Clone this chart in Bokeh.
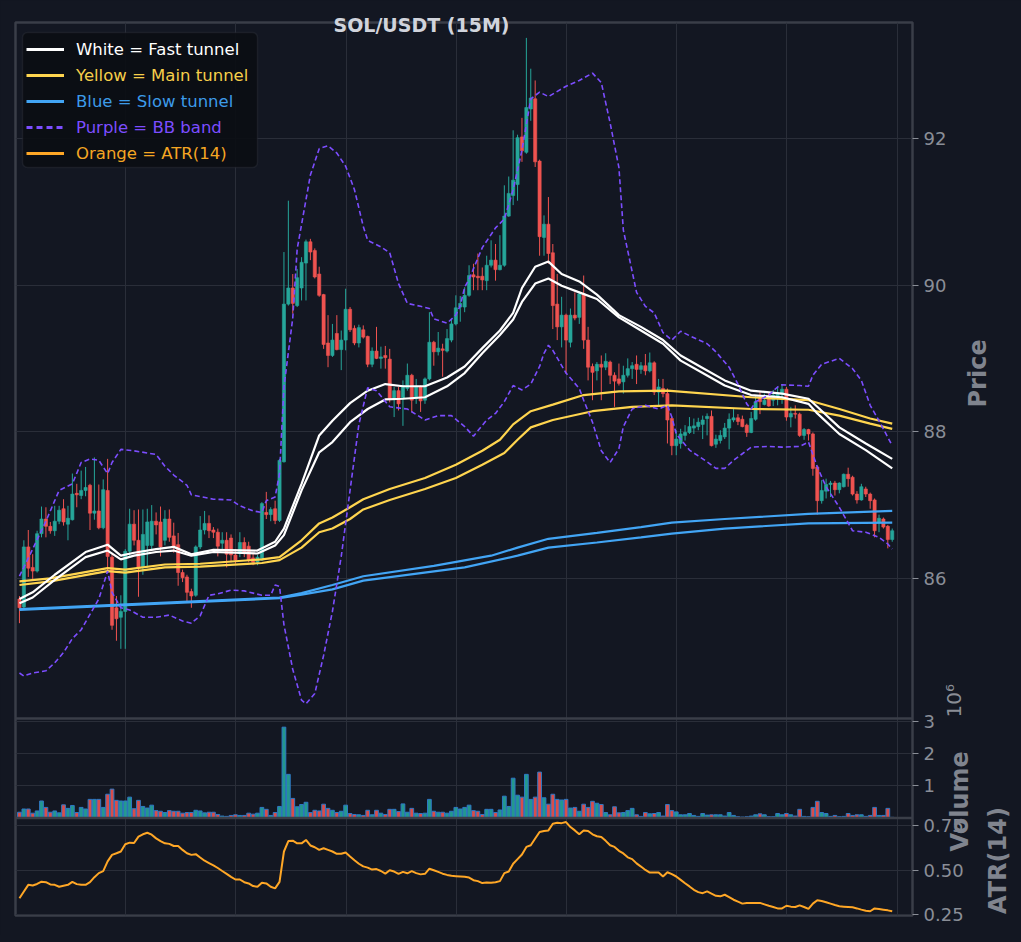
import numpy as np
from bokeh.plotting import figure
from bokeh.models import (Range1d, FixedTicker, Legend, LegendItem, ColumnDataSource,
                          CustomJSTickFormatter, Span, BoxAnnotation, Grid, LinearAxis)
from bokeh.embed import file_html
from bokeh.resources import INLINE

# ----------------------------------------------------------------- data
title_text = "SOL/USDT (15M)"

open_ = [
    85.72, 85.61, 86.43, 86.15, 86.10, 86.61, 86.81, 86.71, 86.65, 86.78,
    86.95, 86.74, 86.80, 87.16, 87.13, 87.20, 87.27, 86.89, 86.92, 86.69,
    87.20, 86.29, 85.60, 85.47, 85.55, 86.37, 86.74, 86.52, 86.15, 86.45,
    86.45, 86.78, 86.77, 86.52, 86.81, 86.58, 86.46, 86.08, 86.02, 85.82,
    85.77, 86.43, 86.66, 86.75, 86.66, 86.63, 86.48, 86.52, 86.55, 86.32,
    86.34, 86.49, 86.44, 86.28, 86.22, 86.25, 86.90, 86.87, 86.95, 86.79,
    87.59, 89.74, 89.96, 89.72, 89.96, 90.30, 90.59, 90.47, 90.15, 89.87,
    89.21, 89.04, 89.34, 89.12, 89.25, 89.67, 89.41, 89.21, 89.39, 89.30,
    88.92, 89.10, 89.00, 89.04, 88.99, 88.45, 88.56, 88.45, 88.59, 88.77,
    88.45, 88.61, 88.43, 88.72, 89.22, 89.09, 89.13, 89.10, 89.25, 89.47,
    89.70, 89.70, 89.86, 90.14, 90.12, 90.12, 90.06, 90.27, 90.34, 90.21,
    90.27, 90.94, 91.22, 91.37, 92.02, 91.81, 92.40, 92.54, 91.69, 90.65,
    90.83, 90.44, 89.74, 89.43, 89.59, 89.22, 89.59, 89.56, 89.88, 89.25,
    88.89, 88.83, 88.92, 88.88, 88.95, 88.77, 88.72, 88.68, 88.77, 88.86,
    88.92, 88.85, 88.90, 88.83, 88.94, 88.54, 88.59, 88.52, 88.18, 87.81,
    87.84, 87.95, 87.99, 88.05, 88.07, 88.10, 88.18, 88.21, 87.83, 87.88,
    87.93, 88.05, 88.16, 88.19, 88.17, 88.09, 87.99, 88.17, 88.47, 88.37,
    88.47, 88.43, 88.47, 88.51, 88.58, 88.20, 88.25, 88.24, 87.95, 88.03,
    87.97, 87.52, 87.06, 87.19, 87.28, 87.30, 87.21, 87.25, 87.42, 87.38,
    87.15, 87.07, 87.22, 87.15, 87.07, 86.77, 86.81, 86.71, 86.53]

high = [
    85.76, 86.52, 86.66, 86.33, 86.65, 86.98, 86.97, 86.77, 86.99, 86.99,
    87.08, 86.99, 87.43, 87.29, 87.47, 87.52, 87.29, 87.65, 87.28, 87.35,
    87.63, 86.33, 85.76, 85.77, 86.40, 86.95, 86.93, 86.94, 86.94, 86.95,
    87.00, 86.90, 86.98, 86.93, 86.94, 86.76, 86.62, 86.12, 86.05, 85.86,
    86.45, 86.85, 86.92, 86.86, 86.70, 86.68, 86.63, 86.63, 86.60, 86.40,
    86.63, 86.56, 86.50, 86.35, 86.32, 87.04, 87.18, 86.97, 87.06, 87.63,
    90.45, 91.15, 90.15, 90.22, 90.38, 90.62, 90.63, 90.50, 90.25, 89.88,
    89.59, 89.47, 89.59, 89.38, 89.95, 89.70, 89.45, 89.46, 89.45, 89.31,
    89.15, 89.43, 89.16, 89.17, 89.13, 88.61, 88.61, 88.70, 88.93, 88.79,
    88.72, 88.63, 88.74, 89.63, 89.24, 89.36, 89.20, 89.40, 89.54, 89.86,
    89.85, 89.97, 90.27, 90.29, 90.43, 90.24, 90.40, 90.61, 90.56, 90.68,
    91.36, 91.48, 92.11, 92.05, 92.28, 93.37, 92.95, 92.79, 91.71, 90.95,
    91.20, 90.56, 90.15, 89.84, 89.61, 89.68, 89.90, 89.91, 90.13, 89.43,
    88.93, 88.95, 89.04, 89.07, 88.97, 88.81, 88.93, 88.90, 89.00, 88.95,
    89.04, 88.95, 89.06, 89.08, 88.96, 88.72, 88.72, 88.59, 88.20, 88.02,
    88.04, 88.09, 88.20, 88.18, 88.19, 88.22, 88.25, 88.29, 87.96, 88.02,
    88.12, 88.25, 88.31, 88.24, 88.22, 88.11, 88.27, 88.50, 88.54, 88.52,
    88.54, 88.57, 88.61, 88.65, 88.61, 88.34, 88.36, 88.26, 88.05, 88.04,
    87.99, 87.54, 87.34, 87.36, 87.33, 87.33, 87.31, 87.43, 87.51, 87.40,
    87.19, 87.29, 87.25, 87.17, 87.09, 86.87, 86.83, 86.73, 86.68]

low = [
    85.39, 85.59, 86.02, 85.98, 86.08, 86.56, 86.56, 86.61, 86.58, 86.74,
    86.72, 86.52, 86.79, 86.97, 87.08, 87.12, 86.66, 86.80, 86.67, 86.67,
    86.10, 85.30, 85.15, 85.04, 85.04, 86.30, 86.45, 85.75, 86.05, 86.15,
    86.40, 86.60, 86.30, 86.45, 86.50, 86.35, 85.90, 85.95, 85.68, 85.60,
    85.75, 86.40, 86.60, 86.55, 86.55, 86.30, 86.40, 86.15, 86.22, 86.20,
    86.29, 86.29, 86.22, 86.18, 86.18, 86.24, 86.81, 86.78, 86.74, 86.77,
    87.58, 89.72, 89.61, 89.70, 89.79, 89.79, 90.34, 90.09, 89.84, 89.13,
    88.88, 89.02, 89.11, 88.84, 89.11, 89.36, 89.18, 89.15, 89.27, 88.88,
    88.88, 88.99, 88.86, 88.86, 88.40, 88.20, 88.29, 88.08, 88.56, 88.27,
    88.38, 88.27, 88.38, 88.70, 88.90, 89.04, 88.75, 89.08, 89.22, 89.45,
    89.50, 89.63, 89.84, 89.93, 89.93, 89.93, 89.93, 90.24, 90.06, 90.20,
    90.25, 90.93, 91.09, 91.15, 91.68, 91.79, 92.24, 91.61, 90.40, 90.40,
    90.29, 89.40, 89.25, 89.15, 88.79, 89.15, 89.52, 89.47, 89.13, 88.70,
    88.43, 88.70, 88.43, 88.84, 88.65, 88.34, 88.63, 88.52, 88.74, 88.72,
    88.65, 88.79, 88.77, 88.81, 88.50, 88.36, 88.47, 87.84, 87.68, 87.68,
    87.77, 87.88, 87.97, 87.97, 88.02, 87.90, 87.95, 87.80, 87.78, 87.84,
    87.90, 87.76, 88.13, 88.09, 88.06, 87.93, 87.98, 88.15, 88.24, 88.36,
    88.34, 88.35, 88.36, 88.38, 88.15, 88.06, 88.18, 87.93, 87.89, 87.88,
    87.40, 86.87, 87.02, 87.09, 87.11, 87.13, 87.16, 87.24, 87.25, 87.13,
    87.02, 87.06, 87.11, 86.95, 86.56, 86.63, 86.68, 86.41, 86.50]

close = [
    85.60, 86.43, 86.14, 86.10, 86.61, 86.81, 86.71, 86.65, 86.78, 86.93,
    86.77, 86.82, 87.15, 87.14, 87.20, 87.24, 86.89, 86.92, 86.69, 87.21,
    86.30, 85.36, 85.45, 85.55, 86.37, 86.74, 86.52, 86.15, 86.60, 86.77,
    86.78, 86.73, 86.43, 86.81, 86.56, 86.44, 86.08, 86.01, 85.81, 85.76,
    86.43, 86.66, 86.75, 86.65, 86.63, 86.44, 86.52, 86.33, 86.32, 86.25,
    86.49, 86.36, 86.25, 86.22, 86.29, 87.02, 86.87, 86.94, 86.79, 87.61,
    89.74, 89.96, 89.75, 90.10, 90.31, 90.59, 90.45, 90.11, 89.86, 89.19,
    89.04, 89.25, 89.12, 89.25, 89.67, 89.39, 89.21, 89.42, 89.29, 88.92,
    89.10, 89.00, 89.02, 89.01, 88.45, 88.56, 88.38, 88.63, 88.77, 88.43,
    88.61, 88.42, 88.72, 89.22, 89.09, 89.14, 89.11, 89.27, 89.47, 89.69,
    89.75, 89.86, 90.13, 90.11, 90.10, 90.07, 90.27, 90.34, 90.21, 90.27,
    90.94, 91.25, 91.43, 92.01, 91.83, 92.42, 92.55, 91.68, 90.66, 90.83,
    90.43, 89.72, 89.43, 89.59, 89.25, 89.59, 89.55, 89.88, 89.25, 88.88,
    88.81, 88.92, 88.88, 88.96, 88.77, 88.69, 88.66, 88.77, 88.86, 88.90,
    88.85, 88.90, 88.83, 88.94, 88.54, 88.61, 88.52, 88.16, 87.81, 87.90,
    87.97, 87.99, 88.07, 88.08, 88.13, 88.16, 88.21, 87.81, 87.90, 87.95,
    88.05, 88.17, 88.19, 88.14, 88.07, 87.99, 88.18, 88.41, 88.41, 88.43,
    88.35, 88.50, 88.52, 88.58, 88.20, 88.25, 88.24, 87.95, 88.03, 87.97,
    87.50, 87.06, 87.20, 87.28, 87.30, 87.21, 87.30, 87.42, 87.36, 87.15,
    87.07, 87.25, 87.15, 87.06, 86.65, 86.82, 86.70, 86.53, 86.65]

# volume in millions (axis offset 10^6)
volume_m = [
    0.18, 0.28, 0.28, 0.15, 0.22, 0.53, 0.33, 0.18, 0.22, 0.16,
    0.41, 0.30, 0.39, 0.17, 0.33, 0.28, 0.58, 0.58, 0.58, 0.33,
    0.74, 0.90, 0.55, 0.53, 0.53, 0.65, 0.29, 0.55, 0.36, 0.31,
    0.40, 0.23, 0.21, 0.17, 0.23, 0.21, 0.21, 0.15, 0.17, 0.17,
    0.24, 0.22, 0.16, 0.18, 0.18, 0.11, 0.06, 0.05, 0.08, 0.10,
    0.08, 0.08, 0.15, 0.12, 0.15, 0.33, 0.27, 0.08, 0.17, 0.36,
    2.83, 1.36, 0.61, 0.35, 0.42, 0.49, 0.17, 0.24, 0.22, 0.43,
    0.30, 0.24, 0.17, 0.21, 0.40, 0.14, 0.11, 0.10, 0.08, 0.24,
    0.10, 0.24, 0.15, 0.11, 0.27, 0.27, 0.20, 0.44, 0.18, 0.30,
    0.15, 0.14, 0.15, 0.58, 0.21, 0.18, 0.18, 0.15, 0.21, 0.33,
    0.28, 0.33, 0.40, 0.23, 0.21, 0.11, 0.27, 0.27, 0.17, 0.25,
    0.68, 0.36, 1.24, 0.71, 0.65, 1.36, 0.58, 0.65, 1.43, 0.63,
    0.43, 0.74, 0.58, 0.56, 0.58, 0.31, 0.33, 0.21, 0.43, 0.33,
    0.52, 0.46, 0.42, 0.17, 0.10, 0.35, 0.16, 0.17, 0.23, 0.30,
    0.10, 0.05, 0.17, 0.13, 0.14, 0.17, 0.06, 0.42, 0.23, 0.19,
    0.10, 0.10, 0.14, 0.08, 0.05, 0.14, 0.09, 0.10, 0.10, 0.10,
    0.06, 0.17, 0.08, 0.04, 0.03, 0.04, 0.06, 0.10, 0.13, 0.10,
    0.04, 0.04, 0.14, 0.10, 0.14, 0.10, 0.06, 0.27, 0.05, 0.04,
    0.33, 0.52, 0.17, 0.14, 0.05, 0.08, 0.04, 0.05, 0.14, 0.08,
    0.10, 0.10, 0.05, 0.08, 0.33, 0.08, 0.08, 0.30, 0.02]

atr14 = [
    0.342, 0.380, 0.418, 0.414, 0.423, 0.436, 0.433, 0.420, 0.418, 0.407,
    0.413, 0.418, 0.435, 0.422, 0.418, 0.418, 0.433, 0.461, 0.484, 0.495,
    0.550, 0.587, 0.596, 0.606, 0.647, 0.656, 0.654, 0.690, 0.703, 0.712,
    0.701, 0.680, 0.665, 0.652, 0.649, 0.637, 0.637, 0.615, 0.596, 0.587,
    0.591, 0.572, 0.554, 0.541, 0.528, 0.513, 0.496, 0.480, 0.463, 0.448,
    0.448, 0.433, 0.426, 0.411, 0.407, 0.430, 0.426, 0.407, 0.398, 0.435,
    0.606, 0.665, 0.667, 0.652, 0.652, 0.671, 0.640, 0.630, 0.615, 0.624,
    0.615, 0.606, 0.593, 0.593, 0.600, 0.578, 0.557, 0.537, 0.522, 0.515,
    0.504, 0.507, 0.496, 0.481, 0.500, 0.493, 0.480, 0.491, 0.483, 0.495,
    0.484, 0.477, 0.480, 0.509, 0.500, 0.491, 0.481, 0.474, 0.469, 0.467,
    0.465, 0.463, 0.459, 0.444, 0.439, 0.428, 0.431, 0.430, 0.433, 0.439,
    0.484, 0.493, 0.537, 0.563, 0.589, 0.632, 0.641, 0.679, 0.716, 0.722,
    0.725, 0.763, 0.768, 0.766, 0.772, 0.744, 0.725, 0.703, 0.725, 0.722,
    0.703, 0.692, 0.688, 0.666, 0.641, 0.632, 0.610, 0.595, 0.573, 0.563,
    0.539, 0.521, 0.502, 0.487, 0.487, 0.487, 0.465, 0.489, 0.478, 0.465,
    0.446, 0.427, 0.409, 0.390, 0.377, 0.371, 0.381, 0.368, 0.356, 0.353,
    0.362, 0.349, 0.334, 0.323, 0.312, 0.316, 0.316, 0.316, 0.316, 0.308,
    0.300, 0.293, 0.285, 0.285, 0.300, 0.295, 0.293, 0.302, 0.293, 0.282,
    0.312, 0.331, 0.327, 0.320, 0.312, 0.304, 0.297, 0.295, 0.293, 0.291,
    0.285, 0.278, 0.272, 0.269, 0.285, 0.282, 0.278, 0.274, 0.269]

# tunnels (sampled at candle indices)
fast_x = [0, 3, 8, 15, 20, 23, 26, 31, 35, 39, 44, 54, 58, 60, 64, 68, 71, 75, 79, 83,
          87, 92, 97, 101, 105, 109, 112, 114, 117, 120, 123, 127, 131, 136, 141, 146,
          150, 155, 160, 166, 173, 179, 181, 186, 192, 198]
fast_a = [85.72, 85.81, 86.05, 86.36, 86.46, 86.31, 86.35, 86.40, 86.43, 86.33,
          86.39, 86.38, 86.50, 86.68, 87.29, 87.95, 88.15, 88.39, 88.56, 88.65,
          88.62, 88.62, 88.74, 88.89, 89.14, 89.38, 89.62, 89.96, 90.25, 90.32,
          90.15, 90.05, 89.87, 89.59, 89.43, 89.25, 89.04, 88.87, 88.70, 88.56,
          88.52, 88.45, 88.34, 88.06, 87.84, 87.63]
fast_b = [85.66, 85.74, 85.98, 86.29, 86.38, 86.26, 86.31, 86.36, 86.38, 86.31,
          86.36, 86.34, 86.45, 86.59, 87.20, 87.72, 87.86, 88.13, 88.31, 88.44,
          88.45, 88.47, 88.62, 88.80, 89.07, 89.32, 89.53, 89.77, 90.02, 90.09,
          89.99, 89.90, 89.81, 89.56, 89.38, 89.20, 88.97, 88.80, 88.63, 88.50,
          88.47, 88.38, 88.25, 87.97, 87.75, 87.50]

main_a_x = [0, 7, 20, 24, 33, 41, 55, 59, 64, 68, 71, 75, 78, 84, 92, 99, 105, 109, 112,
            116, 121, 128, 136, 147, 166, 179, 186, 193, 198]
main_a = [85.96, 86.00, 86.14, 86.12, 86.19, 86.20, 86.26, 86.29, 86.52, 86.75,
          86.83, 86.97, 87.08, 87.22, 87.37, 87.55, 87.74, 87.89, 88.10, 88.28,
          88.37, 88.50, 88.55, 88.56, 88.47, 88.43, 88.31, 88.18, 88.11]
main_b_x = [0, 7, 20, 24, 33, 41, 55, 59, 64, 68, 71, 75, 78, 84, 92, 99, 105, 110, 113,
            116, 121, 130, 139, 148, 166, 179, 186, 193, 198]
main_b = [85.91, 85.96, 86.10, 86.08, 86.15, 86.16, 86.21, 86.25, 86.42, 86.63,
          86.68, 86.81, 86.94, 87.07, 87.22, 87.37, 87.55, 87.71, 87.89, 88.06,
          88.16, 88.28, 88.34, 88.36, 88.31, 88.30, 88.22, 88.11, 88.04]

slow_a_x = [0, 59, 64, 71, 78, 94, 107, 113, 120, 131, 141, 148, 160, 179, 198]
slow_a = [85.58, 85.74, 85.80, 85.91, 86.03, 86.17, 86.31, 86.42, 86.54, 86.62,
          86.70, 86.76, 86.81, 86.88, 86.92]
slow_b_x = [0, 59, 64, 71, 78, 101, 113, 120, 131, 141, 148, 160, 179, 198]
slow_b = [85.57, 85.73, 85.78, 85.85, 85.97, 86.15, 86.31, 86.42, 86.49, 86.56,
          86.61, 86.68, 86.75, 86.76]

bb_up_x = [0, 3, 6, 8, 9, 12, 14, 16, 18, 20, 21, 23, 26, 31, 33, 35, 38, 39, 44, 48,
           50, 53, 55, 56, 58, 59, 60, 62, 63, 66, 68, 70, 72, 74, 76, 78, 79, 82, 84, 86,
           88, 91, 93, 94, 97, 99, 100, 101, 102, 105, 108, 110, 112, 114, 116, 118, 120,
           124, 127, 130, 132, 134, 136, 137, 140, 142, 144, 146, 148, 150, 152, 156, 158,
           161, 163, 165, 166, 167, 170, 172, 173, 177, 179, 180, 182, 186, 189, 191, 193,
           195, 198]
bb_up = [86.03, 86.40, 86.78, 87.06, 87.20, 87.29, 87.58, 87.63, 87.61, 87.43,
         87.58, 87.76, 87.74, 87.69, 87.53, 87.41, 87.27, 87.14, 87.08, 87.07,
         86.99, 86.92, 86.90, 87.06, 87.11, 87.43, 88.61, 89.55, 90.49, 91.50,
         91.86, 91.90, 91.80, 91.62, 91.30, 90.80, 90.61, 90.52, 90.44, 90.02,
         89.75, 89.71, 89.68, 89.54, 89.48, 89.59, 89.72, 89.97, 90.08, 90.51,
         90.78, 90.90, 91.30, 91.84, 92.54, 92.63, 92.57, 92.71, 92.79, 92.89,
         92.76, 92.21, 91.60, 90.75, 89.90, 89.71, 89.62, 89.35, 89.25, 89.37,
         89.31, 89.20, 89.09, 88.88, 88.65, 88.38, 88.31, 88.41, 88.50, 88.61,
         88.64, 88.63, 88.62, 88.77, 88.92, 89.00, 88.86, 88.70, 88.36, 88.15,
         87.81]
bb_lo_x = [0, 1, 3, 6, 8, 10, 12, 14, 16, 18, 20, 21, 23, 25, 28, 31, 34, 37, 39, 41,
           43, 45, 48, 51, 55, 57, 58, 59, 60, 62, 64, 65, 67, 69, 71, 73, 75, 77, 79, 81,
           84, 88, 92, 95, 98, 101, 103, 106, 108, 110, 112, 114, 116, 118, 119, 120, 121,
           124, 127, 128, 130, 132, 134, 136, 137, 139, 142, 145, 147, 148, 149, 152, 154,
           156, 158, 160, 162, 164, 166, 170, 173, 177, 179, 181, 183, 186, 189, 192, 195,
           197, 198]
bb_lo = [84.71, 84.67, 84.71, 84.74, 84.85, 84.99, 85.18, 85.30, 85.51, 85.72,
         86.10, 85.81, 85.60, 85.57, 85.47, 85.47, 85.50, 85.42, 85.39, 85.49,
         85.77, 85.79, 85.84, 85.83, 85.77, 85.77, 85.91, 85.89, 85.37, 84.76,
         84.34, 84.29, 84.43, 84.95, 85.55, 86.30, 87.20, 88.10, 88.60, 88.56,
         88.34, 88.31, 88.16, 88.22, 88.22, 88.07, 87.94, 88.16, 88.25, 88.41,
         88.63, 88.57, 88.65, 88.89, 89.07, 89.18, 89.11, 88.80, 88.59, 88.43,
         88.13, 87.74, 87.58, 87.77, 88.07, 88.31, 88.36, 88.31, 88.36, 88.20,
         87.97, 87.75, 87.67, 87.59, 87.50, 87.50, 87.61, 87.70, 87.79, 87.80,
         87.79, 87.80, 87.86, 87.52, 87.25, 86.97, 86.65, 86.63, 86.56, 86.47,
         86.40]

grid_x = [-0.9 + 25 * k for k in range(9)]
price_ticks = [86, 88, 90, 92]
vol_ticks = [1, 2, 3]
atr_ticks = [0.25, 0.50, 0.75]
legend_labels = ["White = Fast tunnel", "Yellow = Main tunnel", "Blue = Slow tunnel",
                 "Purple = BB band", "Orange = ATR(14)"]
axis_titles = {"price": "Price", "volume": "Volume", "atr": "ATR(14)", "offset": "10\u2076"}

N = len(close)
assert len(open_) == N and len(high) == N and len(low) == N
assert len(volume_m) == N and len(atr14) == N
assert len(fast_x) == len(fast_a) == len(fast_b)
assert len(main_a_x) == len(main_a) and len(main_b_x) == len(main_b)
assert len(slow_a_x) == len(slow_a) and len(slow_b_x) == len(slow_b)
assert len(bb_up_x) == len(bb_up) and len(bb_lo_x) == len(bb_lo)

# ----------------------------------------------------------------- style
BG = "#131722"
GRID = "#2a2e39"
EDGE = "#3a3e48"
TICK = "#8a8e97"
AXLAB = "#80848e"
UP = "#26a69a"
DOWN = "#ef5350"
C_FAST = "#ffffff"
C_MAIN = "#ffd54f"
C_SLOW = "#42a5f5"
C_BB = "#7c4dff"
C_ATR = "#ffa726"
FONT = "DejaVu Sans"

# layout in page pixels (canvas starts at page 0,0)
FRAME_L = 15
FRAME_W = 897
RIGHT_B = 101
FRAME_T = 22
FRAME_B = 915
FRAME_H = FRAME_B - FRAME_T
SPLIT1 = 718.0      # price | volume
SPLIT2 = 817.5      # volume | ATR

X0, X1 = -0.9, 202.6
P0, P1 = 84.09, 93.58                     # price shown between FRAME_T and SPLIT1
PRICE_PX = (SPLIT1 - FRAME_T) / (P1 - P0)
VOL_TOP = 3.1
VOL_PX = (SPLIT2 - SPLIT1) / VOL_TOP
ATR_LO, ATR_TOP = 0.245, 0.795
ATR_PX = (FRAME_B - SPLIT2) / (ATR_TOP - ATR_LO)


def xd(px):
    return X0 + (px - FRAME_L) / FRAME_W * (X1 - X0)


def p_of_py(py):
    return P1 - (py - FRAME_T) / PRICE_PX


def v_of_py(py):
    return (SPLIT2 - py) / VOL_PX


def a_of_py(py):
    return ATR_LO + (FRAME_B - py) / ATR_PX


def price_of_vol(v):
    return p_of_py(SPLIT2 - v * VOL_PX)


def price_of_atr(a):
    return p_of_py(FRAME_B - (a - ATR_LO) * ATR_PX)


xs = np.arange(N)
o = np.array(open_)
c = np.array(close)
colors = [UP if cc >= oo else DOWN for oo, cc in zip(o, c)]
src = ColumnDataSource(dict(x=xs, high=high, low=low, top=np.maximum(o, c),
                            bottom=np.minimum(o, c), color=colors, vol=volume_m))

p = figure(x_range=Range1d(X0, X1), y_range=Range1d(p_of_py(FRAME_B), p_of_py(FRAME_T)),
           frame_width=FRAME_W, frame_height=FRAME_H,
           min_border_left=FRAME_L, min_border_right=RIGHT_B,
           min_border_top=FRAME_T, min_border_bottom=20,
           x_axis_location=None, y_axis_location="right",
           output_backend="svg", toolbar_location=None,
           background_fill_color=BG, border_fill_color=BG)
p.extra_y_ranges = {"vol": Range1d(v_of_py(FRAME_B), v_of_py(FRAME_T)),
                    "atr": Range1d(a_of_py(FRAME_B), a_of_py(FRAME_T))}
p.outline_line_color = EDGE
p.outline_line_width = 2.5

# grids
all_ticks = ([float(t) for t in price_ticks] + [price_of_vol(v) for v in vol_ticks]
             + [price_of_atr(a) for a in atr_ticks])
for g in p.grid:
    g.visible = False
p.add_layout(Grid(dimension=0, ticker=FixedTicker(ticks=grid_x), grid_line_color=GRID))
p.add_layout(Grid(dimension=1, ticker=FixedTicker(ticks=all_ticks), grid_line_color=GRID))

# numeric right axis (price / volume / ATR)
ax = p.yaxis[0]
ax.ticker = FixedTicker(ticks=all_ticks)
ax.axis_line_color = None
ax.major_tick_line_color = TICK
ax.major_tick_out = 6
ax.major_tick_in = 0
ax.minor_tick_line_color = None
ax.major_label_text_color = TICK
ax.major_label_text_font = FONT
ax.major_label_text_font_size = "18px"
ax.major_label_standoff = 5
ax.formatter = CustomJSTickFormatter(
    args=dict(s1=p_of_py(SPLIT1) - 1e-6, s2=p_of_py(SPLIT2), ft=FRAME_T, pt=P1, ppx=PRICE_PX,
              sp2=SPLIT2, vpx=VOL_PX, fb=FRAME_B, alo=ATR_LO, apx=ATR_PX),
    code="""
    if (tick >= s1) { return tick.toFixed(0); }
    const py = ft + (pt - tick) * ppx;
    if (tick >= s2) { return ((sp2 - py) / vpx).toFixed(0); }
    return (alo + (fb - py) / apx).toFixed(2);
    """)


def text_axis(py_start, label, size, bold, color, standoff):
    # rotated label reads bottom-to-top and starts at its tick
    t = round(p_of_py(py_start), 4)
    a = LinearAxis(ticker=FixedTicker(ticks=[t]), major_label_overrides={t: label},
                   major_label_orientation=np.pi / 2, major_label_standoff=standoff,
                   major_tick_out=0, major_tick_in=0, major_tick_line_color=None,
                   minor_tick_line_color=None, axis_line_color=None,
                   major_label_text_font=FONT, major_label_text_font_size=size,
                   major_label_text_font_style="bold" if bold else "normal",
                   major_label_text_color=color)
    p.add_layout(a, "right")
    return a


text_axis(717, axis_titles["offset"], "20px", False, TICK, -12)
text_axis(851, axis_titles["volume"], "24px", True, AXLAB, -21)
text_axis(407, axis_titles["price"], "24px", True, AXLAB, -13)
text_axis(913.5, axis_titles["atr"], "24px", True, AXLAB, -11)

# title as a top axis label
tx = round(xd(421), 4)
title_ax = LinearAxis(ticker=FixedTicker(ticks=[tx]), major_label_overrides={tx: title_text},
                      major_label_standoff=-13, major_tick_out=0, major_tick_in=0,
                      major_tick_line_color=None, minor_tick_line_color=None,
                      axis_line_color=None, major_label_text_font=FONT,
                      major_label_text_font_size="19px", major_label_text_font_style="bold",
                      major_label_text_color="#d1d4dc")
p.add_layout(title_ax, "above")

# dividers between panels
p.add_layout(Span(location=p_of_py(SPLIT1), dimension="width", line_color=EDGE, line_width=2.5))
p.add_layout(Span(location=p_of_py(SPLIT2), dimension="width", line_color=EDGE, line_width=2.5))

# candles
p.segment(x0="x", y0="high", x1="x", y1="low", source=src, line_color="color", line_width=1)
p.vbar(x="x", width=0.72, top="top", bottom="bottom", source=src,
       fill_color="color", line_color="color", line_width=0.6)

# tunnels and bands
p.line(slow_a_x, slow_a, line_color=C_SLOW, line_width=2.2)
p.line(slow_b_x, slow_b, line_color=C_SLOW, line_width=2.2)
p.line(main_a_x, main_a, line_color=C_MAIN, line_width=2.2)
p.line(main_b_x, main_b, line_color=C_MAIN, line_width=2.2)
p.line(fast_x, fast_a, line_color=C_FAST, line_width=2.2)
p.line(fast_x, fast_b, line_color=C_FAST, line_width=2.2)
p.line(bb_up_x, bb_up, line_color=C_BB, line_width=1.6, line_dash="5 3")
p.line(bb_lo_x, bb_lo, line_color=C_BB, line_width=1.6, line_dash="5 3")

# volume and ATR
p.vbar(x="x", width=0.85, top="vol", bottom=0, source=src, fill_color="color",
       fill_alpha=0.9, line_color="#2f78c4", line_width=1, y_range_name="vol")
p.line(xs, atr14, line_color=C_ATR, line_width=2, y_range_name="atr")

# legend: one box, one single-item legend per row (own text colour)
box = BoxAnnotation(left=xd(22), right=xd(257), top=p_of_py(32), bottom=p_of_py(167),
                    fill_color="#0b0e14", fill_alpha=0.92, line_color=EDGE, line_width=1.5)
if "border_radius" in box.properties():
    box.border_radius = 5
p.add_layout(box)
leg_style = [(C_FAST, "#ffffff", "solid"), (C_MAIN, "#f7cf4a", "solid"),
             (C_SLOW, "#3d9be9", "solid"), (C_BB, "#7c4dff", "6 4"),
             (C_ATR, "#f5a623", "solid")]
for k, (lab, (lc, tc, dash)) in enumerate(zip(legend_labels, leg_style)):
    r = p.line(x=[np.nan], y=[np.nan], line_color=lc, line_width=3, line_dash=dash)
    lg = Legend(items=[LegendItem(label=lab, renderers=[r])],
                location=(11, FRAME_H - 14 - 26 * (k + 1)),
                background_fill_alpha=0, border_line_alpha=0, padding=0, margin=0,
                spacing=0, glyph_width=38, glyph_height=26, label_height=26,
                label_standoff=12, label_text_font=FONT, label_text_font_size="16.5px",
                label_text_color=tc)
    p.add_layout(lg)

html = file_html(p, INLINE, title="SOL/USDT (15M)")
html = html.replace("</head>", "<style>html, body { background-color: #131722; }</style></head>", 1)
open("out.html", "w").write(html)
